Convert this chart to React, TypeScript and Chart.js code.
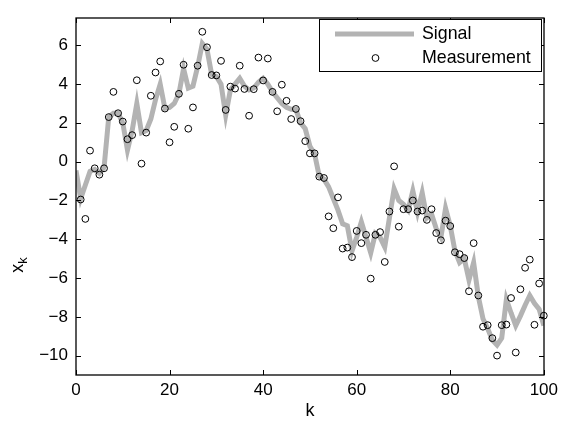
import React, { useEffect, useRef } from "react";
import { Chart, registerables } from "chart.js";

Chart.register(...registerables);

// time index of the signal
const K = [
  0, 1, 2, 3, 4, 5, 6, 7, 8, 9, 10, 11, 12, 13, 14, 15, 16, 17, 18, 19, 20,
  21, 22, 23, 24, 25, 26, 27, 28, 29, 30, 31, 32, 33, 34, 35, 36, 37, 38, 39, 40,
  41, 42, 43, 44, 45, 46, 47, 48, 49, 50, 51, 52, 53, 54, 55, 56, 57, 58, 59, 60,
  61, 62, 63, 64, 65, 66, 67, 68, 69, 70, 71, 72, 73, 74, 75, 76, 77, 78, 79, 80,
  81, 82, 83, 84, 85, 86, 87, 88, 89, 90, 91, 92, 93, 94, 95, 96, 97, 98, 99, 100,
];

const SIGNAL = [
  -0.45, -1.9, -1.2, -0.5, -0.4, -0.6, -0.3, 2.3, 2.5, 2.5, 2.0,
  0.6, 1.6, 3.0, 1.5, 1.6, 2.2, 3.2, 4.0, 2.75, 2.8,
  3.0, 3.5, 4.8, 3.8, 3.9, 4.9, 6.1, 5.8, 4.5, 4.4,
  4.0, 2.4, 3.7, 4.0, 4.3, 3.9, 3.7, 3.8, 4.1, 4.3,
  4.0, 3.6, 3.3, 3.0, 2.8, 2.7, 2.7, 2.0, 1.7, 0.8,
  0.4, -0.75, -0.9, -1.3, -1.9, -2.5, -3.2, -3.3, -4.6, -3.9,
  -3.1, -3.9, -4.7, -3.7, -3.9, -4.4, -2.9, -1.4, -2.0, -2.2,
  -2.5, -1.5, -2.6, -1.6, -2.9, -2.7, -3.45, -3.9, -2.4, -3.3,
  -4.6, -5.2, -5.0, -6.1, -5.2, -6.95, -8.1, -8.6, -9.2, -9.45,
  -9.1, -7.1, -7.8, -8.45, -7.95, -7.4, -6.9, -7.3, -7.6, -8.45,
];

// measurements exist for k = 1..100
const MEAS_K = K.slice(1);
const MEASUREMENT = [
  -1.95, -2.95, 0.57, -0.34, -0.67, -0.34, 2.3, 3.6, 2.5, 2.07,
  1.16, 1.37, 4.2, -0.1, 1.5, 3.4, 4.6, 5.17, 2.74, 1.0,
  1.8, 3.5, 5.0, 1.7, 2.8, 4.95, 6.7, 5.9, 4.47, 4.45,
  5.2, 2.67, 3.87, 3.77, 4.95, 3.75, 2.37, 3.74, 5.37, 4.19,
  5.32, 3.6, 2.6, 3.97, 3.14, 2.2, 2.72, 2.09, 1.06, 0.43,
  0.43, -0.77, -0.84, -2.82, -3.43, -1.84, -4.48, -4.43, -4.92, -3.57,
  -4.2, -3.77, -6.03, -3.77, -3.63, -5.17, -2.57, -0.24, -3.35, -2.45,
  -2.45, -2.0, -2.57, -2.52, -3.0, -2.45, -3.68, -4.05, -3.04, -3.32,
  -4.67, -4.77, -4.97, -6.68, -4.2, -6.9, -8.51, -8.43, -9.1, -10.0,
  -8.43, -8.4, -7.03, -9.84, -6.58, -5.47, -5.05, -8.41, -6.28, -7.94,
];

const X_TICKS = [0, 20, 40, 60, 80, 100];
const Y_TICKS = [-10, -8, -6, -4, -2, 0, 2, 4, 6];

const SERIES_NAMES = ["Signal", "Measurement"];
const X_TITLE = "k";
const Y_TITLE_MAIN = "x";
const Y_TITLE_SUB = "k";

const FONT = '"Liberation Sans", Arial, Helvetica, sans-serif';
const SIGNAL_COLOR = "#b3b3b3";

const fmt = (v: number) => (v < 0 ? "\u2212" + Math.abs(v) : String(v));

const matlabDecor = {
  id: "matlabDecor",
  afterDatasetsDraw(chart: any) {
    const { ctx, chartArea: a, scales } = chart;
    const xs = scales.x;
    const ys = scales.y;
    ctx.save();
    ctx.strokeStyle = "#000";
    ctx.lineWidth = 1.3;
    const L = Math.round(a.left);
    const R = Math.round(a.right);
    const T = Math.round(a.top);
    const B = Math.round(a.bottom);
    ctx.strokeRect(L, T, R - L, B - T);
    const tl = 5;
    ctx.lineWidth = 1;
    ctx.beginPath();
    xs.ticks.forEach((t: any) => {
      const px = Math.round(xs.getPixelForValue(t.value)) + 0.5;
      ctx.moveTo(px, B);
      ctx.lineTo(px, B - tl);
      ctx.moveTo(px, T);
      ctx.lineTo(px, T + tl);
    });
    ys.ticks.forEach((t: any) => {
      const py = Math.round(ys.getPixelForValue(t.value)) + 0.5;
      ctx.moveTo(L, py);
      ctx.lineTo(L + tl, py);
      ctx.moveTo(R, py);
      ctx.lineTo(R - tl, py);
    });
    ctx.stroke();
    ctx.restore();
  },
  afterDraw(chart: any) {
    const { ctx, chartArea: a, data } = chart;
    ctx.save();
    ctx.fillStyle = "#000";
    // x axis title
    ctx.font = `18px ${FONT}`;
    ctx.textAlign = "center";
    ctx.textBaseline = "middle";
    ctx.fillText(X_TITLE, (a.left + a.right) / 2, 411);
    // y axis title with subscript
    ctx.save();
    ctx.translate(18, 265);
    ctx.rotate(-Math.PI / 2);
    ctx.textAlign = "left";
    ctx.textBaseline = "alphabetic";
    ctx.font = `18px ${FONT}`;
    const wMain = ctx.measureText(Y_TITLE_MAIN).width;
    ctx.font = `13px ${FONT}`;
    const wSub = ctx.measureText(Y_TITLE_SUB).width;
    const start = -(wMain + wSub) / 2;
    ctx.font = `18px ${FONT}`;
    ctx.fillText(Y_TITLE_MAIN, start, 5);
    ctx.font = `13px ${FONT}`;
    ctx.fillText(Y_TITLE_SUB, start + wMain, 9);
    ctx.restore();

    // legend box
    const bx = 319.5, by = 19.5, bw = 222, bh = 52;
    ctx.fillStyle = "#fff";
    ctx.fillRect(bx, by, bw, bh);
    ctx.strokeStyle = "#000";
    ctx.lineWidth = 1;
    ctx.strokeRect(bx, by, bw, bh);
    const ds0 = data.datasets[0];
    const ds1 = data.datasets[1];
    ctx.strokeStyle = ds0.borderColor;
    ctx.lineWidth = ds0.borderWidth;
    ctx.beginPath();
    ctx.moveTo(335, 34);
    ctx.lineTo(414, 34);
    ctx.stroke();
    ctx.strokeStyle = ds1.pointBorderColor;
    ctx.lineWidth = ds1.pointBorderWidth;
    ctx.beginPath();
    ctx.arc(375.5, 58, ds1.pointRadius, 0, Math.PI * 2);
    ctx.stroke();
    ctx.fillStyle = "#000";
    ctx.font = `17.8px ${FONT}`;
    ctx.textAlign = "left";
    ctx.textBaseline = "middle";
    ctx.fillText(ds0.label, 422, 34);
    ctx.fillText(ds1.label, 422, 58);
    ctx.restore();
  },
};

export default function App() {
  const ref = useRef<HTMLCanvasElement | null>(null);

  useEffect(() => {
    if (!ref.current) return;
    const chart = new Chart(ref.current, {
      type: "line",
      data: {
        datasets: [
          {
            label: SERIES_NAMES[0],
            data: K.map((k, i) => ({ x: k, y: SIGNAL[i] })),
            borderColor: SIGNAL_COLOR,
            backgroundColor: SIGNAL_COLOR,
            borderWidth: 5,
            pointRadius: 0,
            tension: 0,
            fill: false,
            order: 2,
            clip: 0,
          } as any,
          {
            label: SERIES_NAMES[1],
            data: MEAS_K.map((k, i) => ({ x: k, y: MEASUREMENT[i] })),
            showLine: false,
            pointStyle: "circle",
            pointRadius: 3.4,
            pointBorderColor: "#000",
            pointBorderWidth: 1,
            pointBackgroundColor: "rgba(0,0,0,0)",
            borderColor: "#000",
            order: 1,
            clip: false,
          } as any,
        ],
      },
      options: {
        responsive: false,
        animation: false,
        events: [],
        layout: { padding: { left: 0, right: 16, top: 6, bottom: 0 } },
        plugins: {
          legend: { display: false },
          tooltip: { enabled: false },
        },
        scales: {
          x: {
            type: "linear",
            min: 0,
            max: 100,
            afterBuildTicks: (s: any) => {
              s.ticks = X_TICKS.map((v) => ({ value: v }));
            },
            afterFit: (s: any) => {
              s.height = 49;
            },
            grid: { display: false, drawTicks: false },
            border: { display: false },
            ticks: {
              color: "#000",
              font: { family: FONT, size: 17 },
              padding: 5,
              maxRotation: 0,
              autoSkip: false,
              callback: (v: any) => fmt(Number(v)),
            },
          },
          y: {
            type: "linear",
            min: -11,
            max: 7.4,
            afterBuildTicks: (s: any) => {
              s.ticks = Y_TICKS.map((v) => ({ value: v }));
            },
            afterFit: (s: any) => {
              s.width = 76;
            },
            grid: { display: false, drawTicks: false },
            border: { display: false },
            ticks: {
              color: "#000",
              font: { family: FONT, size: 17 },
              padding: 8,
              autoSkip: false,
              callback: (v: any) => fmt(Number(v)),
            },
          },
        },
      },
      plugins: [matlabDecor],
    });
    return () => chart.destroy();
  }, []);

  return (
    <div style={{ position: "absolute", left: 0, top: 0, width: 563, height: 424, background: "#fff" }}>
      <canvas ref={ref} width={563} height={424} style={{ display: "block" }} />
    </div>
  );
}
